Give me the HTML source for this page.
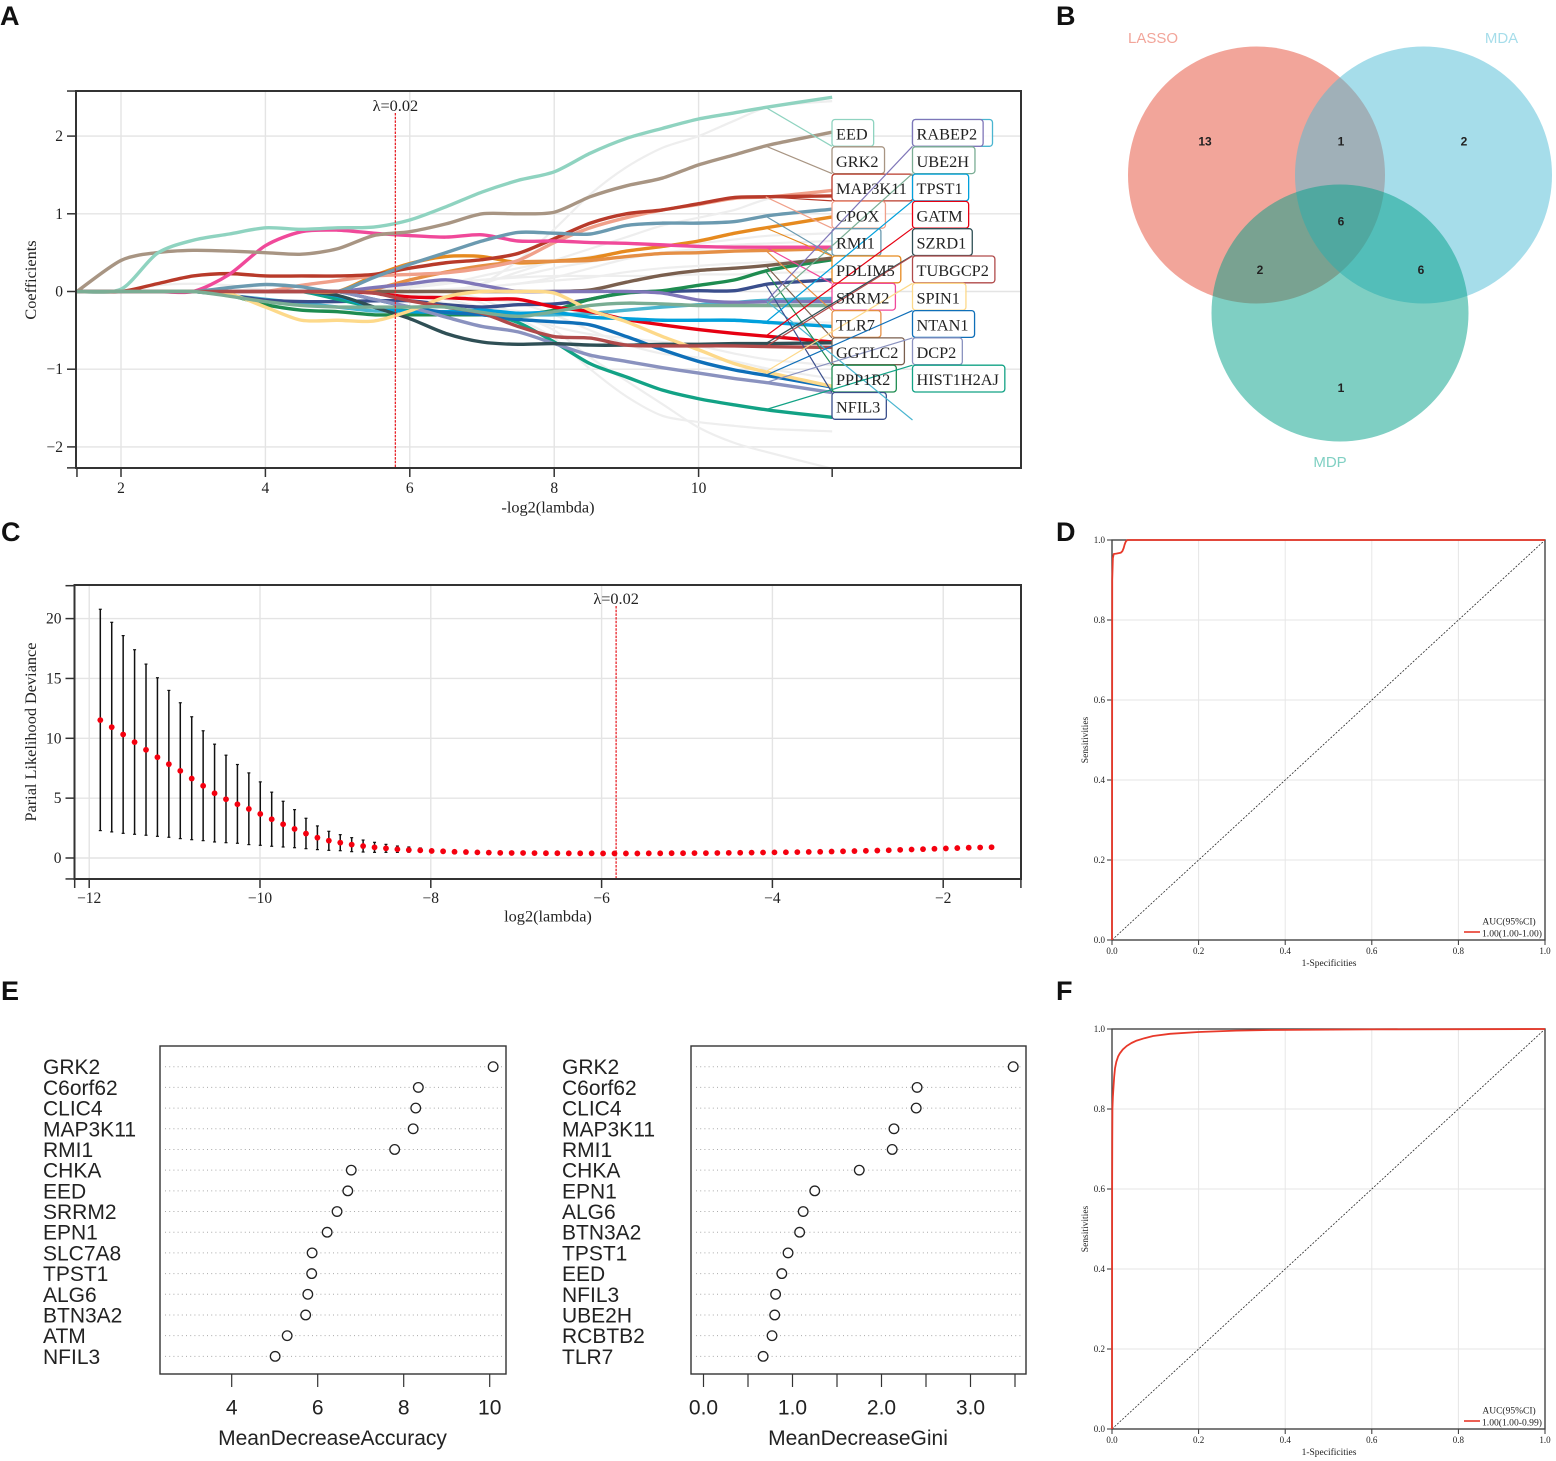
<!DOCTYPE html>
<html lang="en">
<head>
<meta charset="utf-8">
<title>Multi-panel feature selection figure</title>
<style>
html,body{margin:0;padding:0;background:#fff;}
#figure{display:block;width:1556px;height:1461px;filter:blur(0.35px);}
.serif{font-family:"Liberation Serif",serif;fill:#222;}
.sans{font-family:"Liberation Sans",sans-serif;fill:#222;}
.panel-letter{font-family:"Liberation Sans",sans-serif;font-weight:700;font-size:27px;fill:#111;}
</style>
</head>
<body>
<svg id="figure" xmlns="http://www.w3.org/2000/svg" width="1556" height="1461" viewBox="0 0 1556 1461">
  <rect x="0" y="0" width="1556" height="1461" fill="#fff"/>
  <text class="panel-letter" x="0" y="25">A</text>
  <text class="panel-letter" x="1056" y="25">B</text>
  <text class="panel-letter" x="1" y="541">C</text>
  <text class="panel-letter" x="1056" y="541">D</text>
  <text class="panel-letter" x="1" y="1000">E</text>
  <text class="panel-letter" x="1056" y="1000">F</text>

  <g id="panel-a">
    <text class="serif" x="548" y="512.5" font-size="16.3" text-anchor="middle">-log2(lambda)</text>
    <text class="serif" x="0" y="0" font-size="16.3" text-anchor="middle" transform="translate(36 280) rotate(-90)">Coefficients</text>
  </g>

  <g id="panel-b">
    <circle cx="1256.5" cy="175" r="128.5" fill="#e64b35" fill-opacity="0.5"/>
    <circle cx="1423.5" cy="175" r="128.5" fill="#4dbbd5" fill-opacity="0.5"/>
    <circle cx="1340" cy="313" r="128.5" fill="#00a087" fill-opacity="0.5"/>
    <text class="sans" x="1153" y="43" font-size="15" text-anchor="middle" style="fill:#f2a59a">LASSO</text>
    <text class="sans" x="1501.5" y="43" font-size="15" text-anchor="middle" style="fill:#a6ddea">MDA</text>
    <text class="sans" x="1330" y="467" font-size="15" text-anchor="middle" style="fill:#80d0c3">MDP</text>
    <g font-size="12" font-weight="700" text-anchor="middle">
      <text class="sans" x="1205" y="145.5">13</text>
      <text class="sans" x="1341" y="145.5">1</text>
      <text class="sans" x="1464" y="145.5">2</text>
      <text class="sans" x="1341" y="225.5">6</text>
      <text class="sans" x="1260" y="274">2</text>
      <text class="sans" x="1421" y="274">6</text>
      <text class="sans" x="1341" y="392">1</text>
    </g>
  </g>

  <g id="panel-c">
    <text class="serif" x="548" y="921.5" font-size="16.3" text-anchor="middle">log2(lambda)</text>
    <text class="serif" x="0" y="0" font-size="16.3" text-anchor="middle" transform="translate(36 732) rotate(-90)">Parial Likelihood Deviance</text>
  </g>

  <g id="panel-d">
    <text class="serif" x="1329" y="966" font-size="9.5" text-anchor="middle">1-Specificities</text>
    <text class="serif" x="0" y="0" font-size="9.5" text-anchor="middle" transform="translate(1088 740) rotate(-90)">Sensitivities</text>
    <text class="serif" x="1509" y="924.5" font-size="9.5" text-anchor="middle">AUC(95%CI)</text>
    <line x1="1464" y1="932" x2="1480" y2="932" stroke="#e8392a" stroke-width="1.6"/>
    <text class="serif" x="1482" y="936.5" font-size="9.6">1.00(1.00-1.00)</text>
  </g>

  <g id="panel-f">
    <text class="serif" x="1329" y="1455" font-size="9.5" text-anchor="middle">1-Specificities</text>
    <text class="serif" x="0" y="0" font-size="9.5" text-anchor="middle" transform="translate(1088 1229) rotate(-90)">Sensitivities</text>
    <text class="serif" x="1509" y="1413.5" font-size="9.5" text-anchor="middle">AUC(95%CI)</text>
    <line x1="1464" y1="1421" x2="1480" y2="1421" stroke="#e8392a" stroke-width="1.6"/>
    <text class="serif" x="1482" y="1425.5" font-size="9.6">1.00(1.00-0.99)</text>
  </g>

  <g id="panel-e">
    <text class="sans" x="332.5" y="1445" font-size="21" text-anchor="middle">MeanDecreaseAccuracy</text>
    <text class="sans" x="858" y="1445" font-size="21" text-anchor="middle">MeanDecreaseGini</text>
  </g>
</svg>

<script>
/* ---------- Panel A data: coefficient paths ---------- */
const logLambdaGrid = [1.39,2,2.5,3,3.5,4,4.5,5,5.5,6,6.5,7,7.5,8,8.5,9,9.5,10,10.5,11,11.85];
const eedCoef     = [0,.03,.49,.66,.74,.82,.80,.82,.83,.92,1.09,1.28,1.43,1.54,1.78,1.97,2.1,2.22,2.3,2.38,2.5];
const grk2Coef    = [0,.4,.5,.53,.52,.5,.48,.55,.72,.77,.87,1.0,1.0,1.02,1.22,1.36,1.46,1.63,1.76,1.89,2.05];
const map3k11Coef = [0,0,.1,.2,.23,.2,.2,.2,.22,.3,.37,.41,.49,.68,.88,1.0,1.05,1.13,1.21,1.22,1.23];
const cpoxCoef    = [0,0,0,0,0,0,.08,.14,.2,.22,.24,.3,.4,.63,.82,.95,1.05,1.12,1.2,1.22,1.3];
const rmi1Coef    = [0,0,0,0,.05,.09,.06,0,.18,.35,.5,.65,.76,.75,.74,.85,.88,.88,.9,.98,1.06];
const pdlim5Coef  = [0,0,0,0,0,0,0,0,.2,.36,.45,.45,.37,.39,.43,.52,.58,.65,.75,.83,.96];
const srrm2Coef   = [0,0,0,0,.22,.59,.77,.79,.75,.72,.7,.73,.65,.65,.63,.62,.6,.58,.57,.57,.57];
const tlr7Coef    = [0,0,0,0,0,0,0,0,.03,.15,.25,.33,.38,.39,.4,.45,.49,.5,.52,.53,.55];
const ggtlc2Coef  = [0,0,0,0,0,0,0,0,0,0,0,0,0,0,.02,.12,.21,.27,.3,.34,.43];
const ppp1r2Coef  = [0,0,0,0,-.05,-.17,-.24,-.26,-.3,-.3,-.3,-.3,-.3,-.24,-.1,-.02,.01,.08,.15,.28,.41];
const nfil3Coef   = [0,0,0,0,-.05,-.11,-.13,-.13,-.12,-.12,-.17,-.2,-.17,-.16,-.1,-.01,0,.01,.01,.1,.15];
const rabep2Coef  = [0,0,0,0,0,0,0,0,.05,.1,.15,.08,0,0,0,0,-.02,-.11,-.14,-.13,-.13];
const ube2hCoef   = [0,0,0,0,-.06,-.13,-.18,-.2,-.2,-.2,-.2,-.27,-.32,-.26,-.18,-.15,-.16,-.18,-.18,-.18,-.18];
const tpst1Coef   = [0,0,0,0,0,0,0,-.06,-.2,-.26,-.26,-.24,-.28,-.27,-.33,-.35,-.37,-.37,-.37,-.4,-.45];
const gatmCoef    = [0,0,0,0,0,0,0,0,-.02,-.07,-.08,-.1,-.1,-.2,-.26,-.36,-.43,-.49,-.54,-.58,-.65];
const szrd1Coef   = [0,0,0,0,0,0,0,-.05,-.2,-.35,-.54,-.65,-.68,-.67,-.69,-.69,-.68,-.68,-.67,-.67,-.66];
const tubgcp2Coef = [0,0,0,0,0,0,0,0,-.02,-.12,-.2,-.28,-.45,-.58,-.6,-.69,-.7,-.7,-.7,-.71,-.72];
const spin1Coef   = [0,0,0,0,-.03,-.2,-.37,-.37,-.38,-.25,-.07,0,0,-.02,-.24,-.39,-.58,-.75,-.93,-1.05,-1.22];
const ntan1Coef   = [0,0,0,0,0,0,0,0,-.1,-.2,-.27,-.3,-.36,-.39,-.43,-.58,-.75,-.9,-1.01,-1.09,-1.23];
const dcp2Coef    = [0,0,0,0,0,0,0,0,-.1,-.2,-.33,-.45,-.52,-.67,-.82,-.9,-.98,-1.05,-1.12,-1.18,-1.3];
const hist1h2ajCoef=[0,0,0,0,0,0,0,-.1,-.2,-.25,-.28,-.28,-.4,-.65,-.93,-1.1,-1.27,-1.38,-1.46,-1.53,-1.62];
const hiddenLabelCoef=[0,0,0,0,-.05,-.1,-.15,-.2,-.25,-.25,-.27,-.3,-.3,-.3,-.28,-.24,-.2,-.17,-.14,-.11,-.09];

const unselectedCoefs = [
  [0,0,0,0,0,0,0,0,0,0,0,.1,.4,.8,1.25,1.6,1.85,2.0,2.2,2.38,2.45],
  [0,0,0,0,0,0,0,0,0,0,0,.1,.25,.4,.55,.7,.85,.95,1.05,1.2,1.3],
  [0,0,0,0,0,0,0,0,0,.05,.1,.15,.2,.3,.38,.45,.5,.55,.6,.62,.65],
  [0,0,0,0,0,0,0,0,.03,.07,.12,.15,.18,.2,.2,.2,.2,.22,.22,.24,.25],
  [0,0,0,0,0,0,0,0,0,0,0,-.1,-.3,-.5,-.85,-1.15,-1.45,-1.75,-1.95,-2.08,-2.28],
  [0,0,0,0,0,0,0,0,0,0,0,-.15,-.35,-.6,-1.0,-1.35,-1.6,-1.68,-1.73,-1.77,-1.8],
  [0,0,0,0,0,0,0,0,0,-.05,-.15,-.2,-.3,-.45,-.55,-.6,-.65,-.7,-.8,-.88,-.95],
  [0,0,0,0,0,0,0,0,0,-.05,-.1,-.2,-.25,-.3,-.33,-.35,-.36,-.37,-.38,-.39,-.4],
  [0,0,0,0,0,0,0,0,0,.05,.1,.2,.3,.38,.45,.52,.58,.62,.67,.72,.75],
  [0,0,.08,.1,.08,.02,0,0,0,0,.02,.05,.1,.14,.18,.25,.3,.33,.36,.38,.4],
  [0,0,0,0,0,0,0,0,0,0,.03,.06,.1,.18,.3,.42,.5,.52,.53,.54,.55],
  [0,0,0,0,0,0,0,0,0,-.03,-.06,-.1,-.15,-.3,-.5,-.68,-.8,-.85,-.9,-1.0,-1.12]
];

const aXTicks = [2,4,6,8,10];
const aYTicks = [-2,-1,0,1,2];
const lambdaMinA = 5.8;
const leftColumnGenes  = ['EED','GRK2','MAP3K11','CPOX','RMI1','PDLIM5','SRRM2','TLR7','GGTLC2','PPP1R2','NFIL3'];
const rightColumnGenes = ['RABEP2','UBE2H','TPST1','GATM','SZRD1','TUBGCP2','SPIN1','NTAN1','DCP2','HIST1H2AJ'];
const geneCoefs = {EED:eedCoef,GRK2:grk2Coef,MAP3K11:map3k11Coef,CPOX:cpoxCoef,RMI1:rmi1Coef,PDLIM5:pdlim5Coef,SRRM2:srrm2Coef,TLR7:tlr7Coef,GGTLC2:ggtlc2Coef,PPP1R2:ppp1r2Coef,NFIL3:nfil3Coef,RABEP2:rabep2Coef,UBE2H:ube2hCoef,TPST1:tpst1Coef,GATM:gatmCoef,SZRD1:szrd1Coef,TUBGCP2:tubgcp2Coef,SPIN1:spin1Coef,NTAN1:ntan1Coef,DCP2:dcp2Coef,HIST1H2AJ:hist1h2ajCoef};
const geneColors = {EED:'#8fd3c0',GRK2:'#a89583',MAP3K11:'#b83a2a',CPOX:'#f0a08a',RMI1:'#6b9ab0',PDLIM5:'#e68a1f',SRRM2:'#f0499a',TLR7:'#e58f45',GGTLC2:'#7a5f4e',PPP1R2:'#1e8c50',NFIL3:'#3a4e8c',RABEP2:'#7f76b8',UBE2H:'#7aad94',TPST1:'#00a0dc',GATM:'#e60012',SZRD1:'#2f4f55',TUBGCP2:'#b04a4a',SPIN1:'#fdd98a',NTAN1:'#0f6fb8',DCP2:'#8a92bf',HIST1H2AJ:'#12a285'};
const pathDrawOrder = ['NFIL3','PPP1R2','HIST1H2AJ','GATM','TPST1','NTAN1','DCP2','SZRD1','GGTLC2','PDLIM5','TLR7','CPOX','MAP3K11','RABEP2','SPIN1','SRRM2','RMI1','GRK2','EED','TUBGCP2','UBE2H'];

/* ---------- Panel C data: cross-validation deviance ---------- */
const cvStartLogLambda = -11.87;
const cvStepLogLambda = 0.1338;
const cvMean = [11.52,10.93,10.32,9.68,9.04,8.42,7.84,7.28,6.64,6.03,5.41,4.91,4.49,4.1,3.68,3.24,2.82,2.43,2.04,1.7,1.45,1.28,1.12,1.0,.89,.81,.73,.67,.64,.59,.56,.52,.5,.47,.45,.43,.42,.42,.41,.4,.4,.39,.39,.39,.38,.38,.38,.38,.39,.39,.4,.4,.41,.41,.42,.43,.44,.45,.46,.47,.48,.49,.51,.52,.54,.56,.58,.6,.62,.65,.68,.71,.74,.77,.8,.83,.86,.88,.9];
const cvUpper = [20.78,19.69,18.58,17.4,16.2,15.06,14.0,12.97,11.8,10.63,9.51,8.59,7.81,7.11,6.36,5.5,4.74,4.04,3.32,2.68,2.23,1.95,1.7,1.5,1.31,1.14,1.0,.92,.84];
const cvLower = [2.29,2.18,2.06,1.98,1.9,1.81,1.73,1.62,1.53,1.45,1.34,1.28,1.23,1.12,1.06,.98,.92,.86,.78,.7,.64,.61,.53,.5,.47,.47,.47,.48,.5];
const cXTicks = [-12,-10,-8,-6,-4,-2];
const cYTicks = [0,5,10,15,20];
const lambdaMinC = -5.83;

/* ---------- Panel D / F data: ROC curves ---------- */
const rocDFpr  = [0,.0005,.002,.004,.01,.02,.024,.027,.029,.031,.033,.036,.2,1];
const rocDSens = [0,.9,.955,.965,.966,.968,.972,.98,.988,.994,.998,1,1,1];
const rocFFpr  = [0,.0003,.0006,.001,.002,.003,.005,.007,.01,.014,.018,.025,.034,.045,.057,.075,.095,.134,.2,.287,.365,.6,1];
const rocFSens = [0,.6,.72,.8,.83,.8475,.88,.902,.918,.931,.939,.949,.9575,.965,.971,.977,.9825,.988,.9925,.996,.9975,.999,1];
const rocTicks = [0,.2,.4,.6,.8,1];

/* ---------- Panel E data: variable importance ---------- */
const accuracyGenes  = ['GRK2','C6orf62','CLIC4','MAP3K11','RMI1','CHKA','EED','SRRM2','EPN1','SLC7A8','TPST1','ALG6','BTN3A2','ATM','NFIL3'];
const accuracyValues = [10.08,8.34,8.28,8.22,7.79,6.78,6.70,6.45,6.22,5.87,5.86,5.77,5.72,5.29,5.01];
const giniGenes  = ['GRK2','C6orf62','CLIC4','MAP3K11','RMI1','CHKA','EPN1','ALG6','BTN3A2','TPST1','EED','NFIL3','UBE2H','RCBTB2','TLR7'];
const giniValues = [3.48,2.40,2.39,2.14,2.12,1.75,1.25,1.12,1.08,.95,.88,.81,.80,.77,.67];
const accuracyTicks = [4,6,8,10];
const giniTicks = [0,.5,1,1.5,2,2.5,3,3.5];
const giniTickLabels = ['0.0','','1.0','','2.0','','3.0',''];

/* ---------- Helpers ---------- */
const NS = 'http://www.w3.org/2000/svg';
function make(parent, tag, attrs, text) {
  const node = document.createElementNS(NS, tag);
  for (const k in attrs) node.setAttribute(k, attrs[k]);
  if (text !== undefined) node.textContent = text;
  parent.appendChild(node);
  return node;
}
function smoothPath(pts) {
  let d = 'M' + pts[0][0].toFixed(2) + ' ' + pts[0][1].toFixed(2);
  for (let i = 0; i < pts.length - 1; i++) {
    const p0 = pts[Math.max(i - 1, 0)], p1 = pts[i], p2 = pts[i + 1], p3 = pts[Math.min(i + 2, pts.length - 1)];
    const k = 0.14;
    d += ' C' + (p1[0] + (p2[0] - p0[0]) * k).toFixed(2) + ' ' + (p1[1] + (p2[1] - p0[1]) * k).toFixed(2) + ' ' +
         (p2[0] - (p3[0] - p1[0]) * k).toFixed(2) + ' ' + (p2[1] - (p3[1] - p1[1]) * k).toFixed(2) + ' ' +
         p2[0].toFixed(2) + ' ' + p2[1].toFixed(2);
  }
  return d;
}
function polyPath(pts) {
  return pts.map((p, i) => (i ? 'L' : 'M') + p[0].toFixed(2) + ' ' + p[1].toFixed(2)).join(' ');
}
function tickText(v) { return (v < 0 ? '\u2212' + Math.abs(v) : String(v)); }
function interp(xs, ys, x) {
  for (let i = 0; i < xs.length - 1; i++) {
    if (x >= xs[i] && x <= xs[i + 1]) return ys[i] + (ys[i + 1] - ys[i]) * (x - xs[i]) / (xs[i + 1] - xs[i]);
  }
  return ys[ys.length - 1];
}

/* ---------- Shared frame for panels A and C ---------- */
function drawFrame(g, cfg) {
  const gridColor = '#e4e4e4';
  cfg.xTicks.forEach(v => {
    const gl = make(g, 'line', {x1: cfg.x(v), x2: cfg.x(v), y1: cfg.top, y2: cfg.bottom, stroke: gridColor, 'stroke-width': 1.4});
    
    
  });
  cfg.yTicks.forEach(v => {
    const gl = make(g, 'line', {x1: cfg.left, x2: cfg.right, y1: cfg.y(v), y2: cfg.y(v), stroke: gridColor, 'stroke-width': 1.4});
    
    
  });
}
function drawFrameAxes(g, cfg) {
  const box = make(g, 'rect', {x: cfg.left, y: cfg.top, width: cfg.right - cfg.left, height: cfg.bottom - cfg.top, fill: 'none', stroke: '#333', 'stroke-width': 2});
  
  
  cfg.xTicks.concat(cfg.xEnds).forEach(v => {
    const t = make(g, 'line', {x1: cfg.x(v), x2: cfg.x(v), y1: cfg.bottom, y2: cfg.bottom + 9, stroke: '#333', 'stroke-width': 1.5});
    
    
  });
  cfg.yTicks.concat(cfg.yEnds).forEach(v => {
    const t = make(g, 'line', {x1: cfg.left - 9, x2: cfg.left, y1: cfg.y(v), y2: cfg.y(v), stroke: '#333', 'stroke-width': 1.5});
    
    
  });
  cfg.xTicks.forEach(v => {
    const t = make(g, 'text', {x: cfg.x(v), y: cfg.bottom + cfg.xLabelGap, 'text-anchor': 'middle', 'font-size': 15.5, class: 'serif'}, tickText(v));
    
    
  });
  cfg.yTicks.forEach(v => {
    const t = make(g, 'text', {x: cfg.left - 13, y: cfg.y(v) + 5, 'text-anchor': 'end', 'font-size': 15.5, class: 'serif'}, tickText(v));
    
    
  });
}
function drawLambdaMarker(g, xp, y1, y2, labelY) {
  const l = make(g, 'line', {x1: xp, x2: xp, y1: y1, y2: y2, stroke: '#e8232a', 'stroke-width': 1.3, 'stroke-dasharray': '2.5 1.2'});
  
  
  const t = make(g, 'text', {x: xp, y: labelY, 'text-anchor': 'middle', 'font-size': 16.3, class: 'serif'}, '\u03bb=0.02');
  
  
}

/* ---------- Panel A ---------- */
(function () {
  const g = document.getElementById('panel-a');
  const xA = v => 121 + (v - 2) * 72.2;
  const yA = v => 291.5 - v * 77.7;
  const cfg = {x: xA, y: yA, left: 76, right: 1021, top: 91, bottom: 468, xLabelGap: 25,
    xTicks: aXTicks, yTicks: aYTicks, xEnds: [1.39, 11.85], yEnds: [2.58, -2.27]};
  drawFrame(g, cfg);

  unselectedCoefs.forEach(vals => {
    const p = make(g, 'path', {d: smoothPath(logLambdaGrid.map((x, i) => [xA(x), yA(vals[i])])), fill: 'none', stroke: '#eeeeee', 'stroke-width': 2.2});
    
    
  });
  const hiddenPath = make(g, 'path', {d: smoothPath(logLambdaGrid.map((x, i) => [xA(x), yA(hiddenLabelCoef[i])])), fill: 'none', stroke: '#4ab5d0', 'stroke-width': 3.4});
  
  
  pathDrawOrder.forEach(gene => {
    const vals = geneCoefs[gene];
    const p = make(g, 'path', {d: smoothPath(logLambdaGrid.map((x, i) => [xA(x), yA(vals[i])])), fill: 'none', stroke: geneColors[gene], 'stroke-width': 3.4, 'stroke-linejoin': 'round'});
    
    
  });

  drawLambdaMarker(g, xA(lambdaMinA), 113, 467, 111);
  drawFrameAxes(g, cfg);

  /* gene labels */
  const rowTop = 119.5, rowStep = 27.3, rowH = 26.8, leftX = 832, rightX = 912.5, connectorData = 10.93;
  const boxLayer = make(g, 'g', {});
  
  
  const lineLayer = make(g, 'g', {});
  
  
  const textLayer = make(g, 'g', {});
  
  

  const obscuredBox = make(boxLayer, 'rect', {x: rightX, y: rowTop, width: 80, height: rowH, rx: 3, fill: 'rgba(255,255,255,.85)', stroke: '#4ab5d0', 'stroke-width': 1.3});
  
  
  const obscuredLine = make(lineLayer, 'line', {x1: xA(connectorData), y1: yA(interp(logLambdaGrid, hiddenLabelCoef, connectorData)), x2: rightX, y2: 420, stroke: '#4ab5d0', 'stroke-width': 1.2});
  
  

  function placeLabels(genes, colX, bottomAnchorCount) {
    genes.forEach((gene, i) => {
      const top = rowTop + i * rowStep;
      const color = geneColors[gene];
      const t = make(textLayer, 'text', {x: colX + 4, y: top + 20, 'font-size': 16.3, class: 'serif'}, gene);
      
      
      const w = t.getComputedTextLength() + 10;
      const r = make(boxLayer, 'rect', {x: colX, y: top, width: w, height: rowH, rx: 3, fill: 'rgba(255,255,255,.85)', stroke: color, 'stroke-width': 1.3});
      
      
      const endY = i < bottomAnchorCount ? top + rowH : top;
      const c = make(lineLayer, 'line', {x1: xA(connectorData), y1: yA(interp(logLambdaGrid, geneCoefs[gene], connectorData)), x2: colX, y2: endY, stroke: color, 'stroke-width': 1.2});
      
      
    });
  }
  placeLabels(leftColumnGenes, leftX, 5);
  placeLabels(rightColumnGenes, rightX, 5);
})();

/* ---------- Panel C ---------- */
(function () {
  const g = document.getElementById('panel-c');
  const xC = v => 260 + (v + 10) * 85.4;
  const yC = v => 858 - v * 11.97;
  const cfg = {x: xC, y: yC, left: 74.5, right: 1021, top: 585, bottom: 879, xLabelGap: 24,
    xTicks: cXTicks, yTicks: cYTicks, xEnds: [-12.17, -1.09], yEnds: [22.75, -1.75]};
  drawFrame(g, cfg);
  cvUpper.forEach((u, i) => {
    const xp = xC(cvStartLogLambda + i * cvStepLogLambda);
    const stem = make(g, 'line', {x1: xp, x2: xp, y1: yC(u), y2: yC(cvLower[i]), stroke: '#111', 'stroke-width': 1.5});
    
    
    const capTop = make(g, 'line', {x1: xp - 1.5, x2: xp + 1.5, y1: yC(u), y2: yC(u), stroke: '#111', 'stroke-width': 1.2});
    
    
    const capBot = make(g, 'line', {x1: xp - 1.5, x2: xp + 1.5, y1: yC(cvLower[i]), y2: yC(cvLower[i]), stroke: '#111', 'stroke-width': 1.2});
    
    
  });
  drawLambdaMarker(g, xC(lambdaMinC), 606, 878, 604);
  cvMean.forEach((m, i) => {
    const dot = make(g, 'circle', {cx: xC(cvStartLogLambda + i * cvStepLogLambda), cy: yC(m), r: 2.9, fill: '#f5000f'});
    
    
  });
  drawFrameAxes(g, cfg);
})();

/* ---------- Panels D and F ---------- */
function drawRoc(id, top, fpr, sens) {
  const g = document.getElementById(id);
  const left = 1112, right = 1545, bottom = top + 400;
  const xR = v => left + v * (right - left);
  const yR = v => bottom - v * 400;
  const firstChild = g.firstChild;
  const back = document.createElementNS(NS, 'g');
  g.insertBefore(back, firstChild);
  
  
  rocTicks.forEach(v => {
    const gx = make(back, 'line', {x1: xR(v), x2: xR(v), y1: top, y2: bottom, stroke: '#e6e6e6', 'stroke-width': 1});
    
    
    const gy = make(back, 'line', {x1: left, x2: right, y1: yR(v), y2: yR(v), stroke: '#e6e6e6', 'stroke-width': 1});
    
    
    const tx = make(back, 'line', {x1: xR(v), x2: xR(v), y1: bottom, y2: bottom + 5, stroke: '#333', 'stroke-width': 1});
    
    
    const ty = make(back, 'line', {x1: left - 5, x2: left, y1: yR(v), y2: yR(v), stroke: '#333', 'stroke-width': 1});
    
    
    const lx = make(back, 'text', {x: xR(v), y: bottom + 14, 'text-anchor': 'middle', 'font-size': 9, class: 'serif'}, v.toFixed(1));
    
    
    const ly = make(back, 'text', {x: left - 7, y: yR(v) + 3, 'text-anchor': 'end', 'font-size': 9, class: 'serif'}, v.toFixed(1));
    
    
  });
  const frame = make(back, 'rect', {x: left, y: top, width: right - left, height: 400, fill: 'none', stroke: '#444', 'stroke-width': 1.4});
  
  
  const diag = make(back, 'line', {x1: xR(0), y1: yR(0), x2: xR(1), y2: yR(1), stroke: '#222', 'stroke-width': .8, 'stroke-dasharray': '2 1.5'});
  
  
  const curve = make(back, 'path', {d: polyPath(fpr.map((f, i) => [xR(f), yR(sens[i])])), fill: 'none', stroke: '#e8392a', 'stroke-width': 1.8, 'stroke-linejoin': 'round'});
  
  
}
drawRoc('panel-d', 540, rocDFpr, rocDSens);
drawRoc('panel-f', 1029, rocFFpr, rocFSens);

/* ---------- Panel E ---------- */
function drawDotchart(g, genes, values, ticks, tickLabels, xFn, labelX, left, right) {
  const top = 1046, bottom = 1374;
  const rowY = i => 1066.7 + i * 20.69;
  genes.forEach((gene, i) => {
    const lab = make(g, 'text', {x: labelX, y: rowY(i) + 7.5, 'font-size': 21, class: 'sans'}, gene);
    
    
    const dots = make(g, 'line', {x1: left + 5, x2: right - 4, y1: rowY(i), y2: rowY(i), stroke: '#aaaaaa', 'stroke-width': 1, 'stroke-dasharray': '1 3.2'});
    
    
    const pt = make(g, 'circle', {cx: xFn(values[i]), cy: rowY(i), r: 4.8, fill: '#fff', stroke: '#222', 'stroke-width': 1.3});
    
    
  });
  const frame = make(g, 'rect', {x: left, y: top, width: right - left, height: bottom - top, fill: 'none', stroke: '#333', 'stroke-width': 1.4});
  
  
  ticks.forEach((v, i) => {
    const t = make(g, 'line', {x1: xFn(v), x2: xFn(v), y1: bottom, y2: bottom + 13, stroke: '#333', 'stroke-width': 1.2});
    
    
    if (tickLabels[i]) {
      const l = make(g, 'text', {x: xFn(v), y: 1414.5, 'text-anchor': 'middle', 'font-size': 21, class: 'sans'}, tickLabels[i]);
      
      
    }
  });
}
(function () {
  const g = document.getElementById('panel-e');
  drawDotchart(g, accuracyGenes, accuracyValues, accuracyTicks, accuracyTicks.map(String), v => 231.7 + (v - 4) * 43, 43, 160, 506);
  drawDotchart(g, giniGenes, giniValues, giniTicks, giniTickLabels, v => 703.5 + v * 89, 562, 691, 1026);
})();
</script>
</body>
</html>
